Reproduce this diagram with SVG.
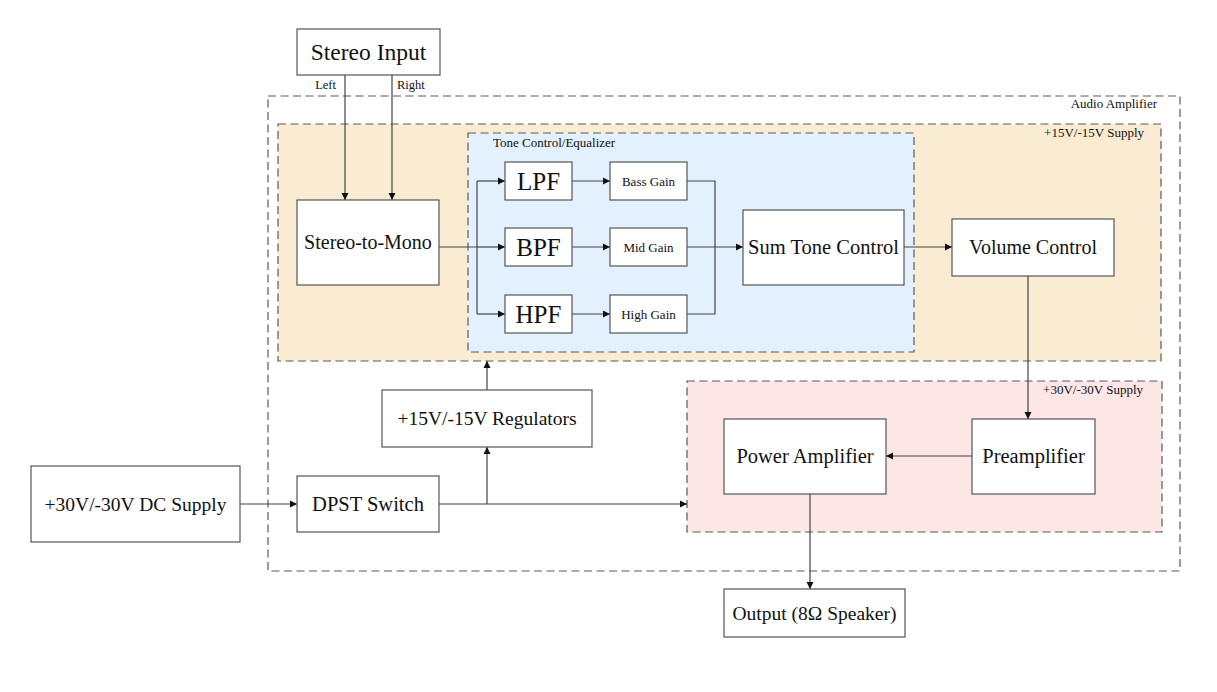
<svg xmlns="http://www.w3.org/2000/svg" width="1217" height="692" viewBox="0 0 1217 692">
<defs>
<marker id="ah" markerWidth="8" markerHeight="8" refX="7" refY="4" orient="auto" markerUnits="userSpaceOnUse">
<path d="M0,0.5 L7,4 L0,7.5 Z" fill="#111"/>
</marker>
<style>
.box{fill:#fff;stroke:#555;stroke-width:1.2}
.grp{stroke:#5a5a5a;stroke-width:1.2;stroke-dasharray:8,4.5}
.t{font-family:"Liberation Serif","Times New Roman",serif;fill:#111;text-anchor:middle;dominant-baseline:central}
.s{font-family:"Liberation Serif","Times New Roman",serif;fill:#111;font-size:13px}
.ln{fill:none;stroke:#444;stroke-width:1.2}
.la{fill:none;stroke:#444;stroke-width:1.2;marker-end:url(#ah)}
</style>
</defs>
<rect width="1217" height="692" fill="#fff"/>

<g id="audio-amplifier">
<rect class="grp" x="268" y="96" width="912" height="475" fill="none"/>
<text class="s" x="1157" y="108" text-anchor="end">Audio Amplifier</text>
</g>
<g id="supply15">
<rect class="grp" x="278" y="124" width="883" height="237" fill="#f9ecd3"/>
<text class="s" x="1144" y="137" text-anchor="end">+15V/-15V Supply</text>
</g>
<g id="tone-control">
<rect class="grp" x="468" y="133" width="446" height="219" fill="#e3f0fd"/>
<text class="s" x="493" y="147">Tone Control/Equalizer</text>
</g>
<g id="supply30">
<rect class="grp" x="687" y="381" width="475" height="151" fill="#fde6e6"/>
<text class="s" x="1143" y="394" text-anchor="end">+30V/-30V Supply</text>
</g>

<g id="connectors">
<path class="la" d="M345,75 V200"/>
<path class="la" d="M392,75 V200"/>
<text class="s" x="336" y="89" text-anchor="end" style="font-size:12.5px">Left</text>
<text class="s" x="397" y="89" style="font-size:12.5px">Right</text>
<path class="ln" d="M439,247 H477"/>
<path class="ln" d="M477,181 V314"/>
<path class="la" d="M477,181 H505"/>
<path class="la" d="M477,247 H505"/>
<path class="la" d="M477,314 H505"/>
<path class="la" d="M572,181 H610"/>
<path class="la" d="M572,247 H610"/>
<path class="la" d="M572,314 H610"/>
<path class="ln" d="M687,181 H715 V314 H687"/>
<path class="la" d="M687,247 H743"/>
<path class="la" d="M904,247 H952"/>
<path class="la" d="M1028,276 V419"/>
<path class="la" d="M972,456 H886"/>
<path class="la" d="M810,494 V589"/>
<path class="la" d="M240,504 H297"/>
<path class="la" d="M439,504 H687"/>
<path class="la" d="M487,504 V447"/>
<path class="la" d="M487,390 V361"/>
</g>

<g id="stereo-input"><rect class="box" x="297" y="29" width="143" height="46"/><text class="t" x="368.5" y="52" font-size="23.5">Stereo Input</text></g>
<g id="stereo-to-mono"><rect class="box" x="297" y="200" width="142" height="85"/><text class="t" x="368" y="242" font-size="20">Stereo-to-Mono</text></g>
<g id="lpf"><rect class="box" x="505" y="162" width="67" height="38"/><text class="t" x="538.5" y="181" font-size="25">LPF</text></g>
<g id="bpf"><rect class="box" x="505" y="228" width="67" height="38"/><text class="t" x="538.5" y="247" font-size="25">BPF</text></g>
<g id="hpf"><rect class="box" x="505" y="295" width="67" height="38"/><text class="t" x="538.5" y="314" font-size="25">HPF</text></g>
<g id="bass-gain"><rect class="box" x="610" y="162" width="77" height="38"/><text class="t" x="648.5" y="181" font-size="13">Bass Gain</text></g>
<g id="mid-gain"><rect class="box" x="610" y="228" width="77" height="38"/><text class="t" x="648.5" y="247" font-size="13">Mid Gain</text></g>
<g id="high-gain"><rect class="box" x="610" y="295" width="77" height="38"/><text class="t" x="648.5" y="314" font-size="13">High Gain</text></g>
<g id="sum-tone"><rect class="box" x="743" y="210" width="161" height="75"/><text class="t" x="823.5" y="247" font-size="20.5">Sum Tone Control</text></g>
<g id="volume"><rect class="box" x="952" y="219" width="162" height="57"/><text class="t" x="1033" y="247" font-size="20">Volume Control</text></g>
<g id="preamp"><rect class="box" x="972" y="419" width="123" height="75"/><text class="t" x="1033.5" y="456" font-size="20.5">Preamplifier</text></g>
<g id="power-amp"><rect class="box" x="724" y="419" width="162" height="75"/><text class="t" x="805" y="456" font-size="20.5">Power Amplifier</text></g>
<g id="output"><rect class="box" x="724" y="589" width="181" height="48"/><text class="t" x="814.5" y="613" font-size="19.5">Output (8Ω Speaker)</text></g>
<g id="dc-supply"><rect class="box" x="31" y="466" width="209" height="76"/><text class="t" x="135.5" y="504" font-size="19.5">+30V/-30V DC Supply</text></g>
<g id="dpst"><rect class="box" x="297" y="476" width="142" height="56"/><text class="t" x="368" y="504" font-size="20.5">DPST Switch</text></g>
<g id="regulators"><rect class="box" x="382" y="390" width="210" height="57"/><text class="t" x="487" y="418" font-size="19.5">+15V/-15V Regulators</text></g>
</svg>
